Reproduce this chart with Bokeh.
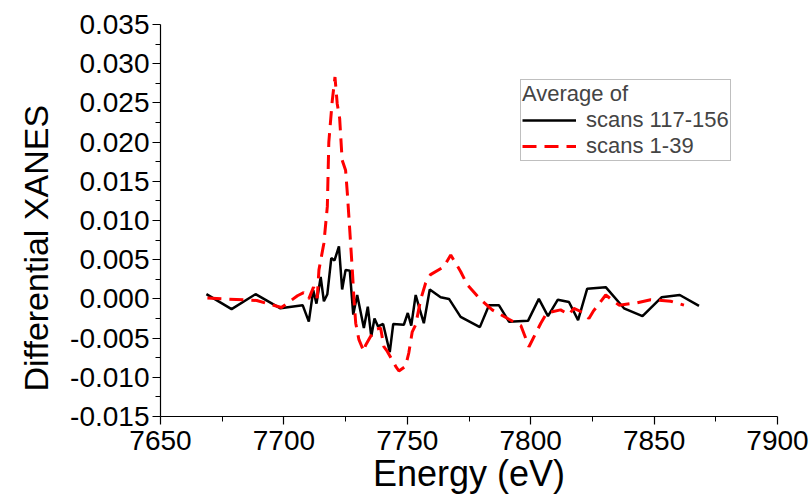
from bokeh.plotting import figure
from bokeh.models import Legend, LegendItem, FixedTicker, PrintfTickFormatter, Range1d, Title
from bokeh.embed import file_html
from bokeh.resources import INLINE

# ---- data ----
energy_recent = [7668.6, 7678.8, 7688.5, 7698.6, 7707.6, 7710.1, 7711.9, 7713.2, 7714.9, 7716.2,
                 7717.6, 7719.2, 7720.5, 7722.3, 7723.6, 7725.0, 7726.7, 7728.1, 7729.7, 7732.4,
                 7734.0, 7735.4, 7736.7, 7738.1, 7740.2, 7742.9, 7744.3, 7748.6, 7750.2, 7751.6,
                 7753.4, 7755.1, 7756.7, 7759.1, 7763.5, 7766.9, 7771.6, 7779.4, 7783.1, 7787.1,
                 7791.2, 7798.9, 7803.3, 7807.0, 7811.0, 7815.5, 7819.2, 7822.9, 7830.4, 7837.8,
                 7845.3, 7853.0, 7860.4, 7868.2]
diff_recent = [0.0006, -0.0013, 0.0006, -0.0012, -0.0008, -0.0029, 0.0011, -0.0006, 0.0028, -0.0003,
               0.0006, 0.0052, 0.0049, 0.0067, 0.0012, 0.0037, 0.0036, -0.0020, 0.0005, -0.0037,
               -0.0010, -0.0048, -0.0025, -0.0035, -0.0032, -0.0068, -0.0032, -0.0033, -0.0018, -0.0034,
               0.0005, -0.0014, -0.0031, 0.0012, 0.0002, 0.0000, -0.0023, -0.0036, -0.0008, -0.0008,
               -0.0029, -0.0028, 0.0000, -0.0022, -0.0001, -0.0004, -0.0027, 0.0013, 0.0015, -0.0012,
               -0.0022, 0.0002, 0.0005, -0.0009]

energy_early = [7669.0, 7689.0, 7699.0, 7705.5, 7708.0, 7710.1, 7712.0, 7713.5, 7714.2, 7716.2,
                7717.6, 7718.2, 7719.6, 7720.7, 7721.6, 7722.6, 7723.6, 7725.0, 7725.7, 7726.6,
                7727.8, 7728.4, 7729.1, 7730.4, 7732.4, 7733.1, 7735.1, 7737.1, 7739.2, 7740.5,
                7741.9, 7745.3, 7746.6, 7749.3, 7750.6, 7752.0, 7753.4, 7755.4, 7757.4, 7759.4,
                7764.8, 7767.6, 7771.6, 7774.3, 7779.4, 7784.4, 7791.2, 7796.0, 7799.3, 7804.1,
                7806.5, 7812.1, 7815.5, 7817.5, 7821.6, 7823.6, 7825.3, 7830.4, 7835.8, 7843.2,
                7848.6, 7856.7, 7862.1]
diff_early = [0.0001, -0.0002, -0.0011, 0.0004, 0.0008, 0.0000, 0.0015, 0.0001, 0.0037, 0.0071,
              0.0118, 0.0200, 0.0253, 0.0283, 0.0249, 0.0230, 0.0177, 0.0164, 0.0135, 0.0092,
              0.0033, -0.0001, -0.0031, -0.0052, -0.0067, -0.0059, -0.0048, -0.0039, -0.0037, -0.0061,
              -0.0067, -0.0086, -0.0092, -0.0086, -0.0069, -0.0042, -0.0033, -0.0001, 0.0020, 0.0031,
              0.0041, 0.0056, 0.0035, 0.0018, 0.0000, -0.0014, -0.0026, -0.0034, -0.0061, -0.0031,
              -0.0018, -0.0014, -0.0020, -0.0012, -0.0018, -0.0025, -0.0016, 0.0005, -0.0008, -0.0005,
              -0.0001, -0.0003, -0.0008]

x_ticks = [7650, 7700, 7750, 7800, 7850, 7900]
x_minor_ticks = [7675, 7725, 7775, 7825, 7875]
y_ticks = [-0.015, -0.010, -0.005, 0.0, 0.005, 0.010, 0.015, 0.020, 0.025, 0.030, 0.035]
y_minor_ticks = [-0.0125, -0.0075, -0.0025, 0.0025, 0.0075, 0.0125, 0.0175, 0.0225, 0.0275, 0.0325]

legend_title = "Average of"
series_labels = ["scans 117-156", "scans 1-39"]
x_label = "Energy (eV)"
y_label = "Differential XANES"

FONT = "Liberation Sans"

p = figure(width=811, height=503, output_backend="svg", toolbar_location=None,
           x_range=Range1d(7650, 7900), y_range=Range1d(-0.015, 0.035),
           min_border_left=160, min_border_right=34, min_border_top=24, min_border_bottom=87)
p.outline_line_color = None
p.grid.visible = False
p.background_fill_color = "white"
p.border_fill_color = "white"

for ax in (p.xaxis[0], p.yaxis[0]):
    ax.axis_line_color = "black"
    ax.axis_line_width = 1.2
    ax.major_tick_in = 0
    ax.major_tick_out = 8
    ax.minor_tick_in = 0
    ax.minor_tick_out = 5
    ax.major_tick_line_color = "black"
    ax.minor_tick_line_color = "black"
    ax.major_tick_line_width = 1.2
    ax.major_label_text_font = FONT
    ax.major_label_text_font_size = "28px"
    ax.major_label_text_color = "black"
p.xaxis.major_label_standoff = 6
p.yaxis.major_label_standoff = 3

p.xaxis.ticker = FixedTicker(ticks=x_ticks, minor_ticks=x_minor_ticks)
p.yaxis.ticker = FixedTicker(ticks=y_ticks, minor_ticks=y_minor_ticks)
p.xaxis.formatter = PrintfTickFormatter(format="%d")
p.yaxis.formatter = PrintfTickFormatter(format="%.3f")

p.xaxis.axis_label = x_label
p.xaxis.axis_label_text_font = FONT
p.xaxis.axis_label_text_font_size = "36px"
p.xaxis.axis_label_text_font_style = "normal"
p.xaxis.axis_label_text_color = "black"
p.xaxis.axis_label_standoff = 0

ytitle = Title(text=y_label, align="left", offset=25, vertical_align="middle", standoff=24,
               text_font=FONT, text_font_size="34px", text_font_style="normal", text_color="black")
p.add_layout(ytitle, "left")

r1 = p.line(energy_recent, diff_recent, line_color="black", line_width=2.5)
r2 = p.line(energy_early, diff_early, line_color="#ff0000", line_width=3, line_dash="14 8")

legend = Legend(items=[LegendItem(label=series_labels[0], renderers=[r1]),
                       LegendItem(label=series_labels[1], renderers=[r2])],
                location=(360, 255), title=legend_title,
                title_text_font=FONT, title_text_font_size="22px", title_text_font_style="normal",
                label_text_font=FONT, label_text_font_size="22px",
                glyph_width=54, glyph_height=22, label_height=22, label_standoff=10,
                padding=1, spacing=0, margin=0, title_standoff=0,
                border_line_color="#808080", border_line_width=1,
                background_fill_color="white", background_fill_alpha=1.0)
p.add_layout(legend)

open("out.html", "w").write(file_html(p, INLINE))
